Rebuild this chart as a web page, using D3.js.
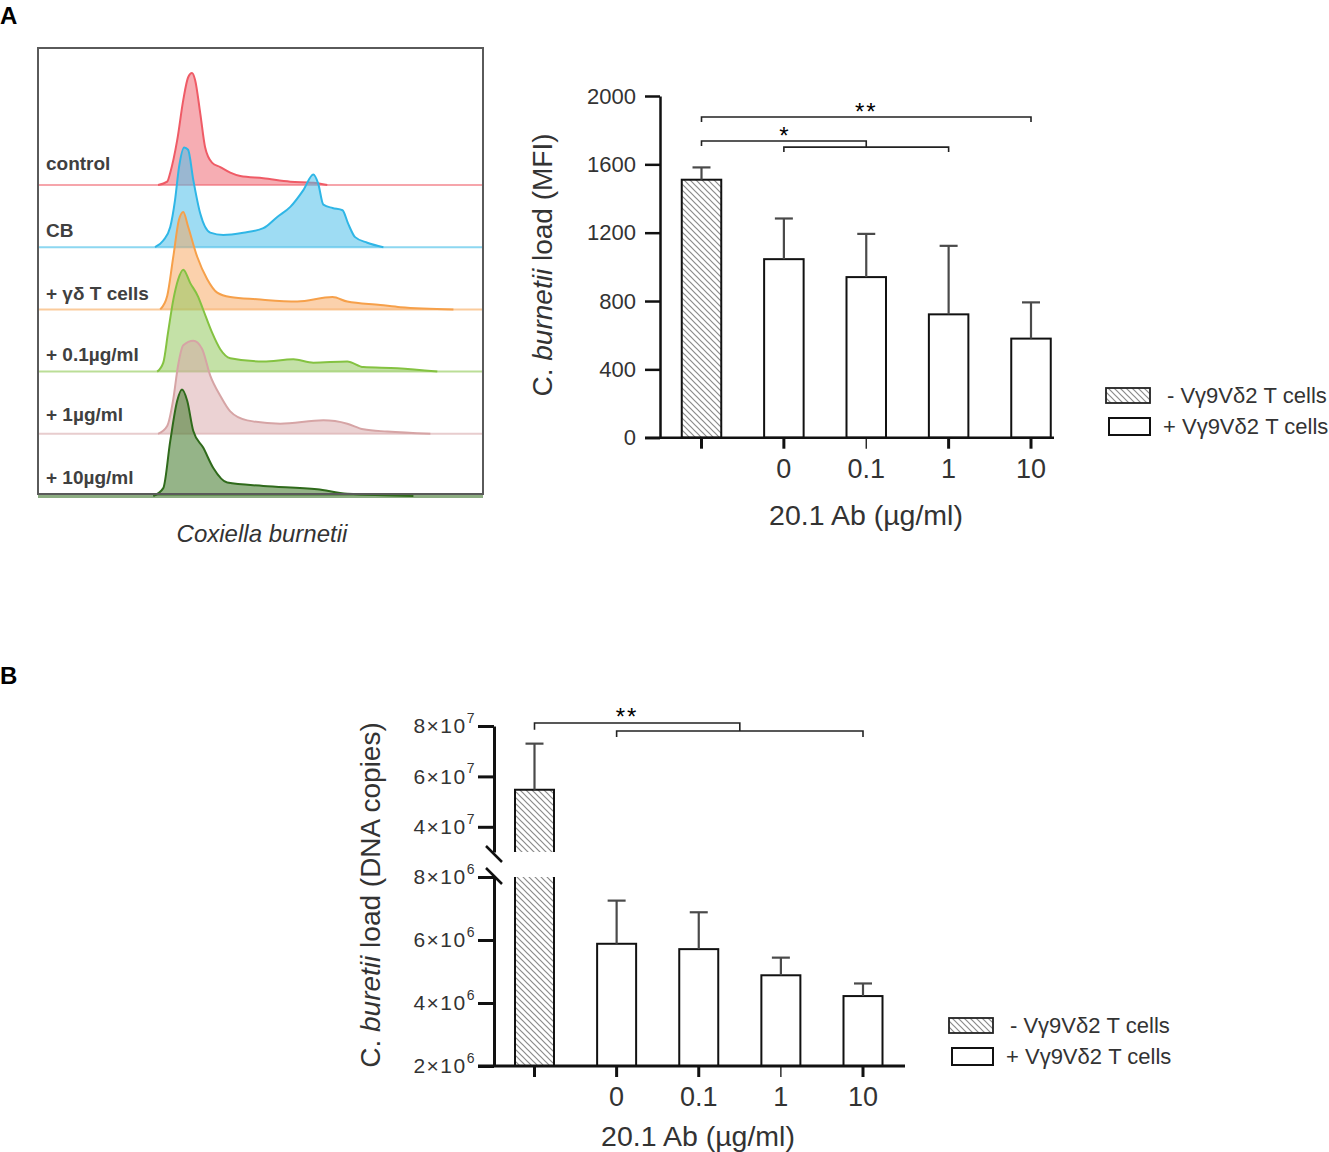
<!DOCTYPE html>
<html><head><meta charset="utf-8">
<script src="https://cdn.jsdelivr.net/npm/d3@7"></script>
<style>body{margin:0;background:#fff}svg{display:block}text{font-family:"Liberation Sans",Arial,sans-serif}</style>
</head><body><svg id="fig" width="1329" height="1152"></svg>
<script>
// ---------------- DATA ----------------
// Flow histograms: [channel (0-1023), relative count (% of max)]
const histLabels = ["control", "CB", "+ γδ T cells", "+ 0.1µg/ml", "+ 1µg/ml", "+ 10µg/ml"];
const histControl = [[276,0],[297,3],[304,11],[320,40],[334,76],[345,96],[354,100],[361,94],[373,64],[384,34],[400,20],[419,16],[442,11],[465,8],[518,6],[580,3],[633,2],[665,0]];
const histCB = [[269,0],[288,6],[304,18],[315,42],[324,71],[336,89],[345,87],[357,60],[373,30],[396,13],[426,11],[472,13],[518,17],[550,27],[580,36],[610,51],[633,65],[644,57],[656,38],[677,35],[700,33],[713,21],[729,9],[757,4],[794,0]];
const histGD = [[281,0],[297,12],[311,47],[324,80],[334,87],[345,74],[366,47],[389,27],[412,15],[442,11],[504,9],[596,7],[677,11],[711,7],[787,4],[833,2],[955,0]];
const hist01 = [[274,0],[288,8],[299,35],[311,64],[322,82],[334,91],[350,79],[368,67],[380,55],[400,35],[419,20],[442,12],[518,9],[587,11],[633,8],[711,9],[748,4],[826,3],[918,0]];
const hist1 = [[276,0],[297,7],[311,31],[322,61],[334,79],[357,83],[377,76],[396,52],[419,34],[442,20],[481,12],[557,9],[656,12],[711,9],[748,4],[803,2],[902,0]];
const hist10 = [[265,0],[288,7],[304,49],[320,85],[331,95],[343,85],[357,58],[380,43],[403,25],[435,12],[518,9],[642,6],[711,2],[863,0]];
const histSeries = [histControl, histCB, histGD, hist01, hist1, hist10];

// Bar charts
const groups = ["noT", "0", "0.1", "1", "10"];
const xTickLabels = ["", "0", "0.1", "1", "10"];
const mfiMean = [1510, 1045, 940, 722, 580];
const mfiUpper = [1582, 1283, 1193, 1123, 792];
const mfiTicks = [0, 400, 800, 1200, 1600, 2000];
const dnaMean = [5.47e7, 5.88e6, 5.71e6, 4.88e6, 4.22e6];
const dnaUpper = [7.3e7, 7.25e6, 6.88e6, 5.44e6, 4.62e6];
const dnaTicksHigh = [4e7, 6e7, 8e7];
const dnaTicksLow = [2e6, 4e6, 6e6, 8e6];
const legendLabels = ["- Vγ9Vδ2 T cells", "+ Vγ9Vδ2 T cells"];

// ---------------- STYLE ----------------
const histStroke = ["#ef5b66", "#2fb6e6", "#f6a04a", "#84c241", "#d6a4a5", "#2f6a1b"];
const histFill   = ["#ef6a74", "#4fc0ea", "#f7a45a", "#94c85e", "#d8a6a7", "#4f8238"];
const histFillOp = [0.55, 0.55, 0.5, 0.55, 0.5, 0.6];
const histLabelDy = [-15, -10, -9, -11, -13, -12];
const TXT = "#333";

const svg = d3.select("#fig");
const defs = svg.append("defs");
const pat = defs.append("pattern").attr("id", "hatch").attr("patternUnits", "userSpaceOnUse")
  .attr("width", 6).attr("height", 6);
pat.append("rect").attr("width", 6).attr("height", 6).attr("fill", "#fff");
pat.append("path").attr("d", "M-1,-1L7,7M-1,5L1,7M5,-1L7,1").attr("stroke", "#8a8a8a").attr("stroke-width", 1.2);

// Panel letters
svg.append("text").attr("x", 0).attr("y", 24).attr("font-size", 24).attr("font-weight", "bold").text("A");
svg.append("text").attr("x", 0).attr("y", 684).attr("font-size", 24).attr("font-weight", "bold").text("B");

// ---------------- HISTOGRAMS ----------------
(function () {
  const box = { x0: 38, x1: 483, y0: 48, y1: 494 };
  const x = d3.scaleLinear().domain([0, 1023]).range([box.x0, box.x1]);
  const row = d3.scalePoint().domain(histLabels).range([185, 496]);
  const h = d3.scaleLinear().domain([0, 100]).range([0, 112]);
  const g = svg.append("g");
  histLabels.forEach((lab, i) => {
    const base = row(lab);
    const area = d3.area().x(d => x(d[0])).y0(base).y1(d => base - h(d[1])).curve(d3.curveMonotoneX);
    const line = d3.line().x(d => x(d[0])).y(d => base - h(d[1])).curve(d3.curveMonotoneX);
    g.append("line").attr("x1", box.x0).attr("x2", box.x1).attr("y1", base).attr("y2", base)
      .attr("stroke", histStroke[i]).attr("stroke-opacity", 0.55).attr("stroke-width", i === 5 ? 4 : 2);
    g.append("path").datum(histSeries[i]).attr("d", area).attr("fill", histFill[i]).attr("fill-opacity", histFillOp[i]);
    g.append("path").datum(histSeries[i]).attr("d", line).attr("fill", "none").attr("stroke", histStroke[i]).attr("stroke-width", 2);
    g.append("text").attr("x", 46).attr("y", base + histLabelDy[i]).attr("font-size", 19).attr("font-weight", "bold")
      .attr("fill", "#404040").text(lab);
  });
  g.append("rect").attr("x", box.x0).attr("y", box.y0).attr("width", box.x1 - box.x0).attr("height", box.y1 - box.y0)
    .attr("fill", "none").attr("stroke", "#5a5a5a").attr("stroke-width", 2);
  g.append("text").attr("x", 262).attr("y", 542).attr("text-anchor", "middle").attr("font-size", 24)
    .attr("font-style", "italic").attr("fill", TXT).text("Coxiella burnetii");
})();

// ---------------- helpers ----------------
function errorBars(g, x, yFn, means, uppers, cap) {
  groups.forEach((k, i) => {
    const cx = x(k), yt = yFn(means[i], i), ye = yFn(uppers[i], i);
    g.append("line").attr("x1", cx).attr("x2", cx).attr("y1", yt).attr("y2", ye).attr("stroke", "#4a4a4a").attr("stroke-width", 2.2);
    g.append("line").attr("x1", cx - cap).attr("x2", cx + cap).attr("y1", ye).attr("y2", ye).attr("stroke", "#4a4a4a").attr("stroke-width", 2.2);
  });
}
function bracket(g, xa, xb, y, drop) {
  g.append("path").attr("d", `M${xa},${y + drop}V${y}H${xb}V${y + drop}`).attr("fill", "none")
    .attr("stroke", "#222").attr("stroke-width", 1.6);
}
function xAxisTicks(g, x, yAxis, thin) {
  groups.forEach((k, i) => {
    g.append("line").attr("x1", x(k)).attr("x2", x(k)).attr("y1", yAxis).attr("y2", yAxis + 11)
      .attr("stroke", "#111").attr("stroke-width", k === thin ? 1.3 : 3);
    if (xTickLabels[i]) g.append("text").attr("x", x(k)).attr("y", yAxis + 40).attr("text-anchor", "middle")
      .attr("font-size", 27).attr("fill", TXT).text(xTickLabels[i]);
  });
}
function legend(g, x0, y0, gap) {
  g.append("rect").attr("x", x0).attr("y", y0).attr("width", 44).attr("height", 15).attr("fill", "url(#hatch)")
    .attr("stroke", "#222").attr("stroke-width", 1.8);
  g.append("rect").attr("x", x0 + 3).attr("y", y0 + gap - 1).attr("width", 41).attr("height", 17).attr("fill", "#fff")
    .attr("stroke", "#111").attr("stroke-width", 2);
  g.append("text").attr("x", x0 + 61).attr("y", y0 + 15).attr("font-size", 22).attr("fill", TXT).text(legendLabels[0]);
  g.append("text").attr("x", x0 + 57).attr("y", y0 + gap + 15).attr("font-size", 22).attr("fill", TXT).text(legendLabels[1]);
}
function yTitle(g, cx, cy, pre, ital, post) {
  const t = g.append("text").attr("transform", `translate(${cx},${cy}) rotate(-90)`).attr("text-anchor", "middle")
    .attr("dy", "0.35em").attr("font-size", 28).attr("fill", TXT);
  t.append("tspan").text(pre);
  t.append("tspan").attr("font-style", "italic").text(ital);
  t.append("tspan").text(post);
}

// ---------------- PANEL A BAR CHART ----------------
(function () {
  const g = svg.append("g");
  const x = d3.scalePoint().domain(groups).range([701.5, 1031]);
  const y = d3.scaleLinear().domain([0, 2000]).range([437.7, 96]);
  const bw = 39.5;
  g.selectAll("rect.bar").data(mfiMean).join("rect").attr("class", "bar")
    .attr("x", (d, i) => x(groups[i]) - bw / 2).attr("width", bw)
    .attr("y", d => y(d)).attr("height", d => y(0) - y(d))
    .attr("fill", (d, i) => i === 0 ? "url(#hatch)" : "#fff").attr("stroke", "#111").attr("stroke-width", 2);
  errorBars(g, x, v => y(v), mfiMean, mfiUpper, 9);
  const ya = g.append("g").attr("transform", "translate(660,0)")
    .call(d3.axisLeft(y).tickValues(mfiTicks).tickFormat(d3.format("d")).tickSize(15).tickSizeOuter(0).tickPadding(9));
  ya.select(".domain").attr("stroke", "#111").attr("stroke-width", 2.5);
  ya.selectAll(".tick line").attr("stroke", "#111").attr("stroke-width", 2.5);
  ya.selectAll(".tick text").attr("font-size", 22).attr("fill", TXT).attr("font-family", "Liberation Sans, Arial, sans-serif");
  g.append("line").attr("x1", 645).attr("x2", 1054).attr("y1", y(0)).attr("y2", y(0)).attr("stroke", "#111").attr("stroke-width", 2.5);
  xAxisTicks(g, x, y(0), "0.1");
  g.append("text").attr("x", 866).attr("y", 525).attr("text-anchor", "middle").attr("font-size", 28.5).attr("fill", TXT).text("20.1 Ab (µg/ml)");
  yTitle(g, 542, 265, "C. ", "burnetii", " load (MFI)");
  bracket(g, x("noT"), x("10"), y(1877), 5);
  g.append("text").attr("x", x("0.1")).attr("y", 120).attr("text-anchor", "middle").attr("font-size", 24).attr("letter-spacing", 2).text("**");
  g.append("path").attr("d", `M${x("noT")},${y(1707)}V${y(1737)}H${x("0.1")}V${y(1701)}`).attr("fill", "none").attr("stroke", "#222").attr("stroke-width", 1.6);
  bracket(g, x("0"), x("1"), y(1701), 5);
  g.append("text").attr("x", x("0")).attr("y", 144).attr("text-anchor", "middle").attr("font-size", 24).text("*");
  legend(g, 1106, 388, 31);
})();

// ---------------- PANEL B BAR CHART ----------------
(function () {
  const g = svg.append("g");
  const x = d3.scalePoint().domain(groups).range([534.5, 863]);
  const yHi = d3.scaleLinear().domain([3e7, 8e7]).range([852, 726]);
  const yLo = d3.scaleLinear().domain([2e6, 8e6]).range([1066, 877]);
  const yv = v => v >= 3e7 ? yHi(v) : yLo(v);
  const bw = 39;
  groups.forEach((k, i) => {
    const v = dnaMean[i];
    if (v >= 3e7) {
      g.append("rect").attr("x", x(k) - bw / 2).attr("width", bw).attr("y", yHi(v)).attr("height", yHi(3e7) - yHi(v))
        .attr("fill", "url(#hatch)").attr("stroke", "none");
      g.append("path").attr("d", `M${x(k) - bw / 2},${yHi(3e7)}V${yHi(v)}H${x(k) + bw / 2}V${yHi(3e7)}`).attr("fill", "none").attr("stroke", "#111").attr("stroke-width", 2);
      g.append("rect").attr("x", x(k) - bw / 2).attr("width", bw).attr("y", yLo(8e6)).attr("height", yLo(2e6) - yLo(8e6))
        .attr("fill", "url(#hatch)").attr("stroke", "none");
      g.append("path").attr("d", `M${x(k) - bw / 2},${yLo(8e6)}V${yLo(2e6)}M${x(k) + bw / 2},${yLo(8e6)}V${yLo(2e6)}`).attr("fill", "none").attr("stroke", "#111").attr("stroke-width", 2);
    } else {
      g.append("rect").attr("x", x(k) - bw / 2).attr("width", bw).attr("y", yLo(v)).attr("height", yLo(2e6) - yLo(v))
        .attr("fill", "#fff").attr("stroke", "#111").attr("stroke-width", 2);
    }
  });
  errorBars(g, x, v => yv(v), dnaMean, dnaUpper, 9);
  const fmt = (g2, ticks, sc) => {
    ticks.forEach(v => {
      const e = Math.floor(Math.log10(v) + 1e-9), m = Math.round(v / Math.pow(10, e));
      const t = g2.append("text").attr("x", 476).attr("y", sc(v)).attr("dy", "0.35em").attr("text-anchor", "end")
        .attr("font-size", 21).attr("fill", TXT).attr("letter-spacing", 1.5);
      t.append("tspan").text(m + "×10");
      t.append("tspan").attr("font-size", 14).attr("dy", "-0.75em").text(e);
    });
  };
  [[yHi, dnaTicksHigh], [yLo, dnaTicksLow]].forEach(([sc, tv]) => {
    const a = g.append("g").attr("transform", "translate(494,0)")
      .call(d3.axisLeft(sc).tickValues(tv).tickSize(16).tickSizeOuter(0).tickFormat(""));
    a.select(".domain").attr("stroke", "#111").attr("stroke-width", 3);
    a.selectAll(".tick line").attr("stroke", "#111").attr("stroke-width", 3);
    fmt(g, tv, sc);
  });
  g.append("path").attr("d", "M486,846L502,862M486,868L502,884").attr("stroke", "#111").attr("stroke-width", 2.5);
  g.append("line").attr("x1", 478).attr("x2", 905).attr("y1", yLo(2e6)).attr("y2", yLo(2e6)).attr("stroke", "#111").attr("stroke-width", 3);
  xAxisTicks(g, x, yLo(2e6), "1");
  g.append("text").attr("x", 698).attr("y", 1146).attr("text-anchor", "middle").attr("font-size", 28.5).attr("fill", TXT).text("20.1 Ab (µg/ml)");
  yTitle(g, 370, 895, "C. ", "buretii", " load (DNA copies)");
  const mid = (x("0") + x("10")) / 2;
  g.append("path").attr("d", `M${x("noT")},${yHi(7.85e7)}V${yHi(8.12e7)}H${mid}V${yHi(7.8e7)}`).attr("fill", "none").attr("stroke", "#222").attr("stroke-width", 1.6);
  bracket(g, x("0"), x("10"), yHi(7.8e7), 6);
  g.append("text").attr("x", 627).attr("y", 725).attr("text-anchor", "middle").attr("font-size", 24).attr("letter-spacing", 2).text("**");
  legend(g, 949, 1018, 31);
})();
</script></body></html>
